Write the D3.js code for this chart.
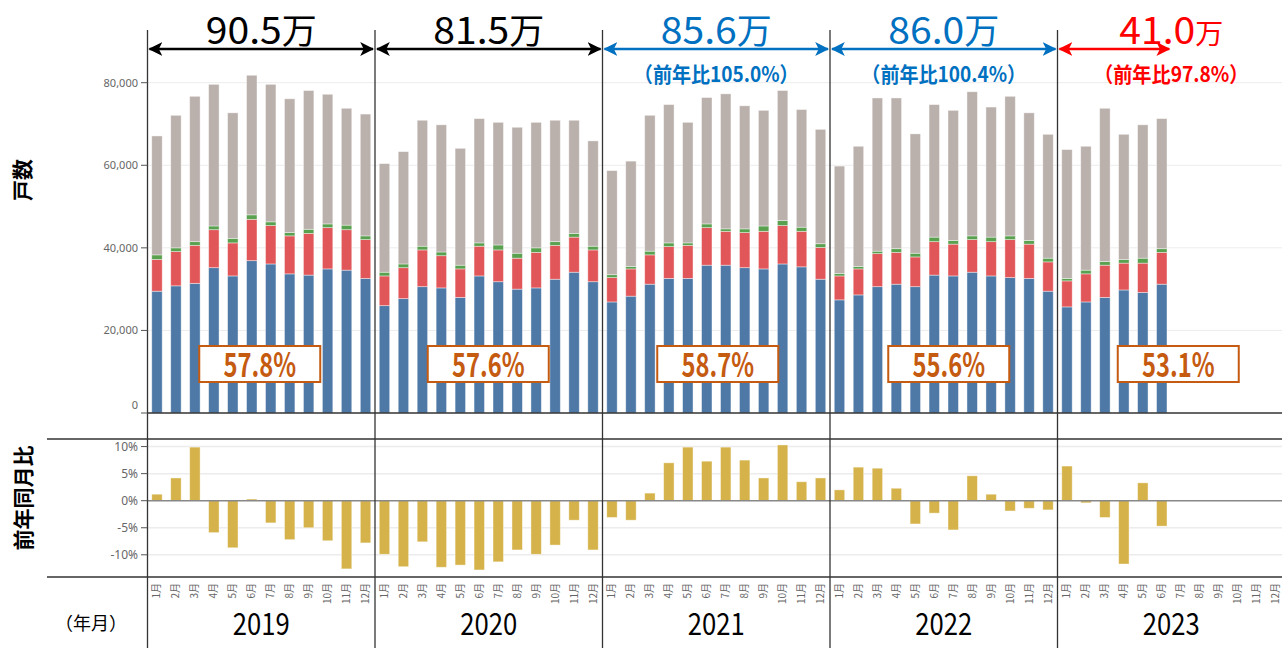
<!DOCTYPE html>
<html>
<head>
<meta charset="utf-8">
<script src="https://cdn.jsdelivr.net/npm/d3@7"></script>
<style>
  body { margin: 0; background: #fff; }
  svg { display: block; }
  text { font-family: "Noto Sans CJK JP", "Noto Sans", sans-serif; }
  .tick-label { font-family: "Noto Sans", sans-serif; font-size: 11px; fill: #666; }
</style>
</head>
<body>
<div id="chart"></div>
<script>
// ---- data ----
var years = ["2019", "2020", "2021", "2022", "2023"];
var months = ["1月","2月","3月","4月","5月","6月","7月","8月","9月","10月","11月","12月"];

var blueVals = [
  29500,30800,31400,35200,33200,36900,36100,33700,33400,34900,34600,32600,
  26000,27700,30600,30300,28000,33200,31800,30000,30300,32400,34100,31800,
  26900,28300,31200,32600,32600,35800,35800,35200,34900,36100,35400,32400,
  27400,28600,30600,31200,30600,33400,33200,34100,33200,32800,32600,29500,
  25700,26900,28000,29800,29200,31200
];
var redVals = [
  7700,8300,9200,9200,8000,10000,9300,9200,10100,10000,9800,9400,
  7200,7500,8900,7800,6900,7200,7700,7500,8600,8200,8500,7700,
  5900,6600,7100,7700,8000,9100,8200,8500,9100,9300,8600,7700,
  5800,6300,8000,7700,7200,8100,7700,7900,8300,9200,8300,7100,
  6300,6800,7800,6500,7100,7700
];
var greenVals = [
  1100,900,900,900,1100,1100,900,800,1000,900,1100,900,
  900,900,900,900,900,800,1200,1200,1100,900,900,900,
  700,600,900,900,600,900,600,900,1300,1200,1000,900,
  600,600,600,900,900,1100,900,900,1100,900,900,900,
  600,900,900,900,1200,900
];
var grayVals = [
  28800,32100,35200,34300,30400,33800,33300,32400,33600,31400,28300,29500,
  26300,27200,30500,30800,28300,30100,29700,30500,30400,29400,27400,25500,
  25200,25500,32900,33500,29200,30600,32700,29800,28000,31500,28500,27700,
  26000,29100,37100,36500,28900,32100,31500,34900,31500,33800,30900,30000,
  31200,30000,37100,30300,32300,31500
];
var yoyVals = [
  1.2,4.2,9.9,-5.9,-8.7,0.3,-4.1,-7.2,-5.0,-7.4,-12.6,-7.8,
  -9.9,-12.2,-7.6,-12.3,-11.9,-12.8,-11.3,-9.1,-9.9,-8.2,-3.6,-9.1,
  -3.1,-3.6,1.4,7.0,9.9,7.3,9.9,7.5,4.2,10.3,3.5,4.2,
  2.0,6.2,6.0,2.3,-4.3,-2.3,-5.4,4.6,1.2,-1.9,-1.4,-1.7,
  6.4,-0.4,-3.1,-11.7,3.3,-4.7
];
var yearTotals = ["90.5", "81.5", "85.6", "86.0", "41.0"];
var yearChange = ["", "", "（前年比105.0%）", "（前年比100.4%）", "（前年比97.8%）"];
var shareLabels = ["57.8%", "57.6%", "58.7%", "55.6%", "53.1%"];
var yTicks = [0, 20000, 40000, 60000, 80000];
var yoyTicks = [10, 5, 0, -5, -10];

// ---- layout / style ----
var width = 1282, height = 648;
var xLeft = 147.5, xRight = 1285;
var headColors = ["#000", "#000", "#0070C0", "#0070C0", "#FF0000"];
var seriesColors = { blue: "#4E79A7", red: "#E15759", green: "#59A14F", gray: "#BAB0AC" };
var boxShift = [-1.5, -0.5, 1.5, 5, 7];

var keys = [];
years.forEach(function(y) { months.forEach(function(m, i) { keys.push(y + "-" + (i + 1)); }); });

var rows = blueVals.map(function(v, i) {
  return { key: keys[i], blue: v, red: redVals[i], green: greenVals[i], gray: grayVals[i], yoy: yoyVals[i] };
});

var svg = d3.select("#chart").append("svg")
  .attr("width", width)
  .attr("height", height);

var x = d3.scaleBand()
  .domain(keys)
  .range([xLeft, xRight])
  .paddingInner(0.45)
  .paddingOuter(0.225);

var y = d3.scaleLinear().domain([0, 80000]).range([413, 82.7]);
var yy = d3.scaleLinear().domain([-14.1, 11.4]).range([577, 439]);

var yearW = x.step() * 12;

// width of a label in a monospace CJK font: full-width glyph = 1em, others 0.5em
function monoWidth(str, em) {
  var w = 0;
  for (var i = 0; i < str.length; i++) w += str.charCodeAt(i) > 255 ? em : em / 2;
  return w;
}

// ---- grid lines ----
svg.append("g").selectAll("line")
  .data(yTicks.filter(function(d) { return d > 0; }))
  .join("line")
    .attr("x1", xLeft).attr("x2", width)
    .attr("y1", function(d) { return y(d); }).attr("y2", function(d) { return y(d); })
    .attr("stroke", "#ececec").attr("stroke-width", 1);

svg.append("g").selectAll("line")
  .data(yoyTicks.filter(function(d) { return d != 0; }))
  .join("line")
    .attr("x1", xLeft).attr("x2", width)
    .attr("y1", function(d) { return yy(d); }).attr("y2", function(d) { return yy(d); })
    .attr("stroke", "#ececec").attr("stroke-width", 1.5);

// ---- stacked bars ----
var stack = d3.stack().keys(["blue", "red", "green", "gray"]);
var series = stack(rows);

svg.append("g").selectAll("g")
  .data(series)
  .join("g")
    .attr("fill", function(d) { return seriesColors[d.key]; })
  .selectAll("rect")
  .data(function(d) { return d; })
  .join("rect")
    .attr("x", function(d) { return x(d.data.key); })
    .attr("y", function(d) { return y(d[1]); })
    .attr("width", x.bandwidth())
    .attr("height", function(d) { return y(d[0]) - y(d[1]); })
    .attr("stroke", "#fff").attr("stroke-opacity", 0.5).attr("stroke-width", 0.8);

// ---- yoy bars ----
svg.append("g").selectAll("rect")
  .data(rows)
  .join("rect")
    .attr("x", function(d) { return x(d.key); })
    .attr("y", function(d) { return yy(Math.max(0, d.yoy)); })
    .attr("width", x.bandwidth())
    .attr("height", function(d) { return Math.abs(yy(d.yoy) - yy(0)); })
    .attr("fill", "#D5B34A")
    .attr("stroke", "#fff").attr("stroke-opacity", 0.5).attr("stroke-width", 0.8);

svg.append("line")
  .attr("x1", xLeft).attr("x2", width)
  .attr("y1", yy(0)).attr("y2", yy(0))
  .attr("stroke", "#888").attr("stroke-width", 1.5);

// ---- frame lines ----
svg.append("line").attr("x1", xLeft).attr("x2", width).attr("y1", y(0)).attr("y2", y(0))
  .attr("stroke", "#333").attr("stroke-width", 1.5);
svg.append("line").attr("x1", 47).attr("x2", width).attr("y1", 439).attr("y2", 439)
  .attr("stroke", "#333").attr("stroke-width", 1.5);
svg.append("line").attr("x1", 47).attr("x2", width).attr("y1", 577).attr("y2", 577)
  .attr("stroke", "#333").attr("stroke-width", 1.5);

svg.append("g").selectAll("line")
  .data(years)
  .join("line")
    .attr("x1", function(d, i) { return xLeft + i * yearW; })
    .attr("x2", function(d, i) { return xLeft + i * yearW; })
    .attr("y1", 30).attr("y2", height)
    .attr("stroke", "#333").attr("stroke-width", 1.3);

// ---- y axes ----
var yAxisG = svg.append("g");
yAxisG.selectAll("line")
  .data(yTicks)
  .join("line")
    .attr("x1", 141).attr("x2", xLeft)
    .attr("y1", function(d) { return y(d); }).attr("y2", function(d) { return y(d); })
    .attr("stroke", "#555");
yAxisG.selectAll("text")
  .data(yTicks)
  .join("text")
    .attr("class", "tick-label")
    .attr("x", 138)
    .attr("y", function(d) { return y(d); })
    .attr("dy", function(d) { return d === 0 ? "-0.35em" : "0.35em"; })
    .attr("text-anchor", "end")
    .text(function(d) { return d3.format(",")(d); });

var yoyAxisG = svg.append("g");
yoyAxisG.selectAll("line")
  .data(yoyTicks)
  .join("line")
    .attr("x1", 141).attr("x2", xLeft)
    .attr("y1", function(d) { return yy(d); }).attr("y2", function(d) { return yy(d); })
    .attr("stroke", "#555");
yoyAxisG.selectAll("text")
  .data(yoyTicks)
  .join("text")
    .attr("class", "tick-label")
    .style("font-size", "12px")
    .attr("x", 138)
    .attr("y", function(d) { return yy(d); })
    .attr("dy", "0.35em")
    .attr("text-anchor", "end")
    .text(function(d) { return d + "%"; });

svg.append("text")
  .attr("transform", "translate(30,180) rotate(-90)")
  .attr("text-anchor", "middle")
  .style("font-size", "21px").style("font-weight", 700)
  .text("戸数");

svg.append("text")
  .attr("transform", "translate(31,498) rotate(-90)")
  .attr("text-anchor", "middle")
  .style("font-size", "21px").style("font-weight", 700)
  .text("前年同月比");

// ---- x axis labels ----
svg.append("g").selectAll("text")
  .data(keys)
  .join("text")
    .attr("transform", function(d) {
      return "translate(" + (x(d) + x.bandwidth() / 2 + 3.5) + ",583) rotate(-90)";
    })
    .attr("text-anchor", "end")
    .style("font-size", "10px").style("fill", "#666")
    .text(function(d) { return months[+d.split("-")[1] - 1]; });

svg.append("g").selectAll("text")
  .data(years)
  .join("text")
    .attr("x", function(d, i) { return xLeft + i * yearW + yearW / 2; })
    .attr("y", 635)
    .attr("text-anchor", "middle")
    .attr("textLength", function(d) { return monoWidth(d, 28.5); })
    .attr("lengthAdjust", "spacingAndGlyphs")
    .style("font-size", "30px")
    .text(function(d) { return d; });

svg.append("text")
  .attr("x", 91).attr("y", 630)
  .attr("text-anchor", "middle")
  .style("font-size", "18px")
  .text("（年月）");

// ---- yearly headers with arrows ----
var defs = svg.append("defs");
headColors.forEach(function(c, i) {
  defs.append("marker")
    .attr("id", "head" + i)
    .attr("viewBox", "0 0 12 12")
    .attr("refX", 11).attr("refY", 6)
    .attr("markerWidth", 14).attr("markerHeight", 14)
    .attr("markerUnits", "userSpaceOnUse")
    .attr("orient", "auto-start-reverse")
    .append("path")
      .attr("d", "M0,0 L12,6 L0,12 L3,6 z")
      .attr("fill", c);
});

years.forEach(function(yr, i) {
  var x0 = xLeft + i * yearW;
  var lastKey = rows.filter(function(r) { return r.key.indexOf(yr) === 0; }).pop().key;
  var x1 = x(lastKey) + x.bandwidth() + x.step() * 0.45 / 2;
  var cx = x0 + yearW / 2;

  svg.append("line")
    .attr("x1", x0 + 2).attr("x2", x1 - 2)
    .attr("y1", 49).attr("y2", 49)
    .attr("stroke", headColors[i]).attr("stroke-width", 2.5)
    .attr("marker-start", "url(#head" + i + ")")
    .attr("marker-end", "url(#head" + i + ")");

  var t = svg.append("text")
    .attr("x", cx).attr("y", 44)
    .attr("text-anchor", "middle")
    .style("fill", headColors[i]);
  t.append("tspan")
    .attr("textLength", monoWidth(yearTotals[i], 38))
    .attr("lengthAdjust", "spacingAndGlyphs")
    .style("font-size", "37px")
    .text(yearTotals[i]);
  t.append("tspan")
    .style("font-size", i === 4 ? "28px" : "35px")
    .text("万");

  if (yearChange[i]) {
    svg.append("text")
      .attr("x", cx).attr("y", 82)
      .attr("text-anchor", "middle")
      .attr("textLength", monoWidth(yearChange[i], 20.6))
      .attr("lengthAdjust", "spacingAndGlyphs")
      .style("font-size", "21px").style("font-weight", 700)
      .style("fill", headColors[i])
      .text(yearChange[i]);
  }

  var bx = cx + boxShift[i];
  svg.append("rect")
    .attr("x", bx - 60.5).attr("y", 346)
    .attr("width", 121).attr("height", 36)
    .attr("fill", "#fff")
    .attr("stroke", "#C55A11").attr("stroke-width", 2);
  svg.append("text")
    .attr("x", bx).attr("y", 377)
    .attr("text-anchor", "middle")
    .attr("textLength", monoWidth(shareLabels[i], 29))
    .attr("lengthAdjust", "spacingAndGlyphs")
    .style("font-size", "33px").style("font-weight", 700)
    .style("fill", "#C55A11")
    .text(shareLabels[i]);
});
</script>
</body>
</html>
